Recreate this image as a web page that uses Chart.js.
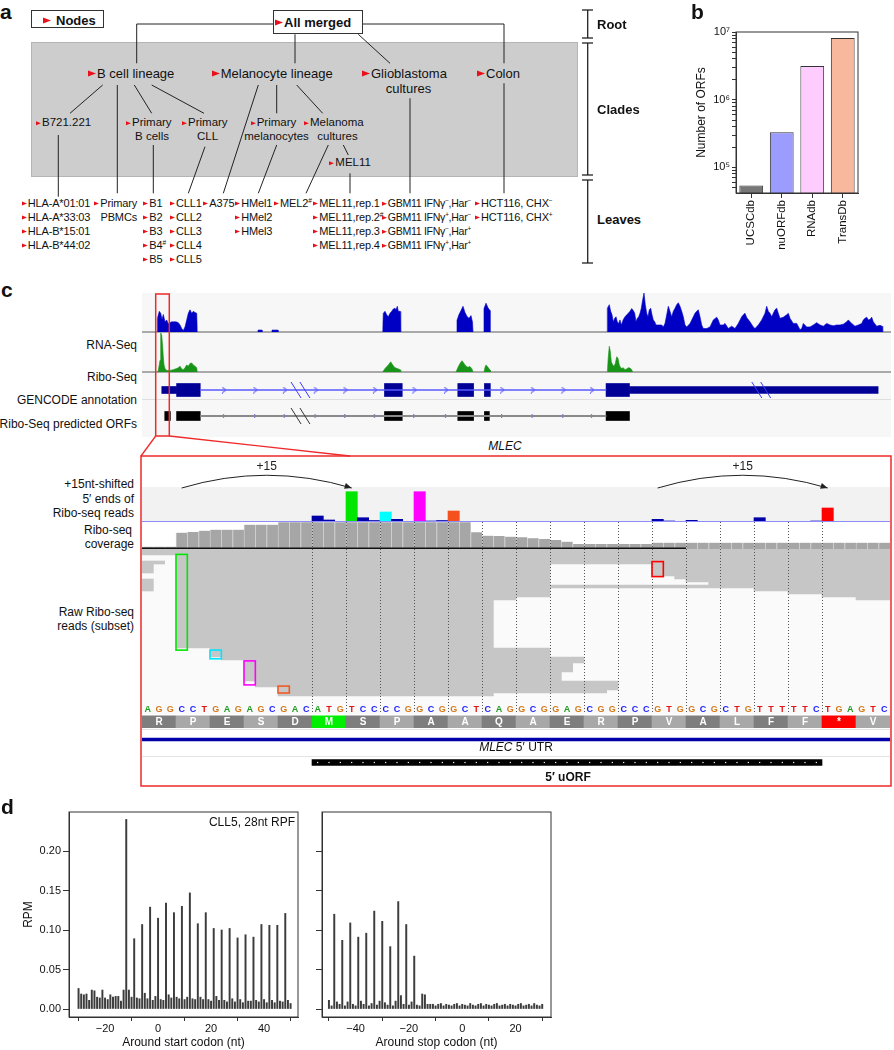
<!DOCTYPE html>
<html>
<head>
<meta charset="utf-8">
<title>nuORFdb overview</title>
<script src="https://cdn.jsdelivr.net/npm/chart.js@4.4.1/dist/chart.umd.min.js"></script>
<style>
  body { margin: 0; background: #fff; }
  #fig { position: relative; width: 894px; height: 1050px; overflow: hidden;
         font-family: "Liberation Sans", Arial, Helvetica, sans-serif; color: #111; }
  #fig canvas, #fig .t, #fig .bx { position: absolute; }
  .t { white-space: nowrap; line-height: 1; }
  .ar { display: inline-block; width: 0; height: 0; border-top: 3px solid transparent;
        border-bottom: 3px solid transparent; border-left: 8px solid #e8101a; margin-right: 1px; vertical-align: 1px; }
  .as { display: inline-block; width: 0; height: 0; border-top: 2.5px solid transparent;
        border-bottom: 2.5px solid transparent; border-left: 5px solid #e8101a; margin-right: 1px; vertical-align: 1px; }
  sup { font-size: 60%; vertical-align: 0.55em; line-height: 0; }
  .lf { font-size: 11px; letter-spacing: -0.15px; }
</style>
</head>
<body>
<div id="fig"></div>
<script>
// ---- panel b: ORF database sizes
const dbNames = ['UCSCdb', 'nuORFdb', 'RNAdb', 'TransDb'];
const dbCounts = [54000, 330000, 3150000, 8150000];
const dbColors = ['#777777', '#9c9cff', '#ffccff', '#f8b89d'];
const logMajor = [1e5, 1e6, 1e7];

// ---- panel d: metagene RPM around start / stop codons
const startRPM = [
  .026, .019, .018, .019, .011, .024, .023, .015, .014, .024,
  .014, .012, .018, .015, .016, .016, .010, .024, .240, .024,
  .015, .089, .014, .013, .107, .020, .013, .129, .011, .016,
  .115, .012, .011, .134, .018, .014, .122, .015, .013, .130,
  .012, .015, .147, .013, .012, .108, .015, .012, .122, .012,
  .010, .102, .016, .011, .100, .011, .009, .102, .013, .009,
  .090, .012, .008, .094, .010, .010, .091, .011, .009, .107,
  .012, .008, .106, .011, .008, .106, .010, .009, .121, .011,
  .007
];
const stopRPM = [
  .011, .004, .120, .009, .006, .087, .004, .009, .109, .006,
  .004, .091, .010, .006, .096, .004, .007, .124, .005, .010,
  .111, .008, .005, .079, .004, .010, .136, .017, .006, .107,
  .005, .009, .067, .005, .004, .019, .018, .006, .006, .006,
  .004, .006, .007, .004, .006, .005, .004, .006, .007, .004,
  .006, .005, .004, .007, .005, .004, .006, .007, .004, .006,
  .005, .004, .006, .007, .004, .005, .006, .004, .006, .005,
  .004, .006, .007, .004, .005, .006, .004, .007, .005, .004,
  .006
];
const rpmTicks = [0, 0.05, 0.10, 0.15, 0.20];
const startTicks = [-20, 0, 20, 40];
const stopTicks = [-40, -20, 0, 20];

// ---- panel c, upper browser view (position along the locus, coverage in % of track)
const rnaCov = [
  [[16.3,0],[16.3,34],[18.3,53],[19.7,48],[21,32],[22.3,45],[24,26],[25.7,31],[27.3,21],[29,24],[30.7,26],[32.3,26],[35,26],[37.3,24],[39,18],[40.7,9],[42.3,4],[44,13],[45.7,31],[47.3,48],[49,57],[50.7,48],[52.3,53],[54,50],[55.7,48],[56.3,0]],
  [[117,0],[117,5],[121,5],[121,0]],
  [[131,0],[131,5],[137,5],[137,0]],
  [[241.7,0],[242.3,48],[244,53],[245.7,44],[247.3,39],[249,48],[250.7,53],[252.3,59],[254,61],[255,57],[256.3,66],[257.3,53],[259,53],[259.7,0]],
  [[316,0],[316,30],[318,45],[320,55],[322,66],[324,50],[326,40],[328,35],[330,42],[331.5,25],[332,0]],
  [[343,0],[343,60],[345,74],[347,62],[349,55],[349,0]],
  [[466.3,0],[466.3,61],[468.3,70],[469.7,53],[471,44],[472.3,26],[473.7,35],[475,39],[476.3,26],[477.7,22],[479,31],[480.3,18],[482.3,32],[484,39],[485.7,44],[487.3,48],[489,53],[490.7,60],[492.3,55],[493.7,48],[495,26],[496.3,35],[497.7,39],[499,48],[500.3,61],[501.7,83],[503,100],[504.3,70],[505.7,48],[507,39],[508.3,57],[509.7,61],[511,44],[512.3,31],[513.7,26],[515,18],[517.7,18],[520.7,18],[522.3,13],[524,22],[525.7,44],[527.3,66],[529,53],[530.7,39],[532.3,53],[534,61],[535.7,70],[537.3,75],[539,66],[540.7,53],[542.3,39],[544,18],[545.7,13],[549,22],[552.3,39],[554,48],[555.7,53],[557.3,57],[559,39],[560.7,18],[562.3,9],[565.7,9],[569,13],[572.3,31],[575.7,38],[577.3,31],[579,18],[582.3,18],[584,22],[587.3,9],[590.7,15],[594,9],[597.3,22],[600.7,39],[602.3,44],[604,48],[605.7,37],[609,26],[612.3,13],[614,9],[617.3,18],[620.7,31],[624,48],[625.7,66],[627.3,53],[629,48],[630.7,39],[632.3,48],[634,57],[635.7,61],[637.3,48],[639,35],[642.3,38],[645.7,44],[647.3,48],[649,35],[652.3,22],[655.7,22],[659,6],[660.7,9],[662.3,22],[665.7,13],[669,13],[672.3,18],[675.7,24],[679,18],[682.3,15],[685.7,22],[689,18],[692.3,16],[695.7,18],[699,18],[702.3,20],[705.7,26],[707.3,31],[710.7,22],[714,15],[717.3,18],[720.7,22],[722.3,31],[724,35],[725.7,38],[727.3,31],[729,32],[730.7,38],[732.3,26],[735.7,15],[739,17],[741,15],[741.7,0]]
];
const riboCov = [
  [[16.3,0],[17.3,4],[19,30],[19.7,100],[20.7,95],[21.7,64],[22.3,39],[23,18],[24,9],[25.7,4],[29,4],[32.3,6],[35.7,9],[37.3,11],[39,15],[40.7,8],[42.3,6],[44,11],[45.7,18],[47.3,15],[49,22],[50.7,23],[52.3,18],[54,15],[55.7,11],[56.3,0]],
  [[241.7,0],[244,9],[247.3,18],[249.7,26],[251.7,18],[254,11],[256.3,9],[259,6],[259.7,0]],
  [[315,0],[317,12],[319,22],[321,29],[323,22],[325,15],[327,12],[329,14],[331,8],[332,0]],
  [[343,0],[344,12],[345,18],[347,12],[349,5],[349.5,0]],
  [[466.3,0],[467.3,39],[468.3,66],[469.3,53],[470.3,26],[471.7,18],[473,15],[474.3,22],[475.7,39],[477,35],[478.3,18],[479.7,11],[481,9],[482.3,11],[484,6],[485.7,8],[487.3,11],[489,10],[490.7,6],[491.7,0]]
];
const gencodeUTR = [[16, 31], [490, 742]];
const gencodeCDS = [[31, 55], [241.7, 259.7], [316, 332], [343, 349], [466.3, 490]];
const orfBlocks = [[19, 24.7], [31, 55], [241.7, 259.7], [316, 332], [343, 348], [466.3, 490]];
const intronSpan = [[55, 466.3]];
const intronArrows = [79, 110.7, 140.7, 172, 202, 232, 272, 304, 361, 392, 423, 452];
const gencodeHash = [147, 614];
const orfHash = [147];

// ---- panel c, zoom on the uORF (nt index 0..65)
const seqNt = 'AGGCCTGAGAGCGACATGTCCCCGGCGGCTCAGGCGGAGCGGCCCGTGGCGCTGTTTTTCTGAGTC';
const aaSeq = ['R','P','E','S','D','M','S','P','A','A','Q','A','E','R','P','V','A','L','F','F','*','V'];
const aaShade = ['d','l','d','l','d','M','d','l','d','l','d','l','d','l','d','l','d','l','d','l','*','l'];
const fivePrime = [
  0, 0, 0, 0, 0, 0, 0, 0, 0, 0.5,
  0, 0, 0, 0, 0, 6, 2, 0, 30.3, 4.3,
  1.5, 10, 2.7, 0, 30.3, 1, 1.5, 11, 0.5, 0.5,
  0, 0, 0, 0, 0, 0, 0, 0, 0, 0,
  0, 0.5, 0, 0, 0, 2.7, 1, 0, 1.7, 0,
  0.5, 0.5, 0, 0, 4.3, 0, 0.5, 0, 0.5, 1,
  14, 0.5, 0.5, 0, 0, 0
];
const fivePrimeHi = { 18: '#00e600', 21: '#00ffff', 24: '#ff00ff', 27: '#f4511e', 60: '#ff0000' };
const coverage = [
  2.3, 2.3, 2.3, 16.3, 17, 18.3, 19.3, 19.3, 19.3, 24.3,
  24.3, 24.3, 26.7, 26.7, 26.7, 26.7, 26.7, 26.7, 26.7, 26.7,
  26.7, 26.7, 26.7, 26.7, 26.7, 26.7, 26.7, 26.7, 26.7, 16.7,
  13.3, 13, 12.3, 11.7, 10.7, 10, 9, 7.3, 5, 5,
  5, 5, 5, 5, 5, 6.3, 6.3, 6.3, 6.3, 6.3,
  6.3, 6.3, 6.3, 6.3, 6.3, 6.3, 6.3, 6.3, 6.3, 6.3,
  6.3, 6.3, 6.3, 6.3, 6.3, 6.3
];
// [row, start nt, end nt]
const readRows = [
  [0,0,66],[1,0,66],[2,3,66],[3,3,66],
  [4,0,2],[4,3,66],
  [5,0,1],[5,3,36],[5,45,66],
  [6,0,1],[6,3,36],[6,45,66],
  [7,0,1],[7,3,36],[7,45,66],
  [8,3,36],[8,45,66],
  [9,3,36],[9,47,66],
  [10,0,1],[10,3,36],[10,48,66],
  [11,0,1],[11,3,36],[11,50,66],
  [12,0,1],[12,3,66],
  [13,0,1],[13,3,36],[13,54,66],
  [14,3,36],[14,57,66],
  [15,3,36],[15,60,66],
  [16,3,33],[16,63,66],
  [17,3,31],[18,3,31],[19,3,31],[20,3,31],[21,3,31],[22,3,31],[23,3,31],[24,3,31],
  [25,3,31],[26,3,31],[27,3,31],[28,3,31],[29,3,31],[30,3,31],[31,3,31],[32,3,31],
  [33,6,36],[34,6,36],[35,6,36],[36,7,39],
  [37,9,39],[38,9,38],[39,9,38],[40,9,38],
  [41,9,37],[42,9,37],[43,9,37],
  [44,10,42],[45,10,42],[46,12,42],[47,12,41],[48,12,31]
];
const hlBoxes = [
  { nt: 3, rows: [1.8, 33.7], color: '#00e600' },
  { nt: 6, rows: [33.7, 36.6], color: '#00e5ff' },
  { nt: 9, rows: [37.3, 45.3], color: '#ff00ff' },
  { nt: 12, rows: [45.7, 48], color: '#f05a23' },
  { nt: 45, rows: [4.2, 9.2], color: '#ff0000' }
];
const codonLines = [15, 18, 21, 24, 27, 30, 33, 36, 39, 42, 45, 48, 51, 54, 57, 60];
const shiftArcs = [[3.5, 18.5], [45.5, 60.5]];
const utrSpan = [0, 66];
const uorfSpan = [15, 60];
const covLineEnd = 48;

const ntColor = { A: '#1f9d1f', C: '#1c1cff', G: '#d5791a', T: '#e31414' };
const FONT = '"Liberation Sans", Arial, Helvetica, sans-serif';
Chart.defaults.font.family = FONT;
Chart.defaults.font.size = 11;
Chart.defaults.color = '#111';
Chart.defaults.animation = false;
Chart.defaults.events = [];
Chart.defaults.plugins.legend.display = false;
Chart.defaults.plugins.tooltip.enabled = false;

const fig = document.getElementById('fig');
function L(x, y, html, css, align) {
  const d = document.createElement('div');
  d.className = 't';
  d.innerHTML = html;
  d.style.left = x + 'px';
  d.style.top = y + 'px';
  const tx = align === 'c' ? '-50%' : align === 'r' ? '-100%' : '0';
  d.style.transform = 'translate(' + tx + ',-50%)';
  if (css) d.style.cssText += css;
  fig.appendChild(d);
  return d;
}
function box(x, y, w, h, css) {
  const d = document.createElement('div');
  d.className = 'bx';
  d.style.cssText += `left:${x}px;top:${y}px;width:${w}px;height:${h}px;` + (css || '');
  fig.appendChild(d);
}
function mk(x, y, w, h) {
  const c = document.createElement('canvas');
  c.width = w; c.height = h;
  c.style.left = x + 'px'; c.style.top = y + 'px';
  fig.appendChild(c);
  return c;
}
const range = (a, b) => Array.from({ length: b - a + 1 }, (_, i) => a + i);

const frame = {
  id: 'frame',
  afterDraw(c) {
    const a = c.chartArea, g = c.ctx;
    g.save(); g.strokeStyle = '#333'; g.lineWidth = 1;
    g.strokeRect(a.left, a.top, a.right - a.left, a.bottom - a.top);
    g.restore();
  }
};
const codonGuides = {
  id: 'codonGuides',
  afterDatasetsDraw(c) {
    const a = c.chartArea, g = c.ctx, xs = c.scales.x;
    g.save(); g.strokeStyle = '#555'; g.lineWidth = 1; g.setLineDash([1, 2]);
    codonLines.forEach(n => {
      const px = Math.round(xs.getPixelForValue(n)) + 0.5;
      g.beginPath(); g.moveTo(px, a.top); g.lineTo(px, a.bottom); g.stroke();
    });
    g.restore();
  }
};

// ---------- backgrounds ----------
box(30.7, 41.7, 547, 135, 'background:#cdcdcd;border:1px solid #b5b5b5;box-sizing:border-box');
box(141.7, 292.7, 749.3, 144, 'background:#f7f7f7');
box(141.7, 331, 749.3, 1.5, 'background:#a9a9a9');
box(141.7, 371, 749.3, 1.5, 'background:#a9a9a9');
box(141.7, 398.5, 749.3, 1, 'background:#dedede');
box(142, 487, 748, 35, 'background:#f2f2f2');
box(142, 549, 748, 165, 'background:#fafafa');
box(142, 729, 748, 1, 'background:#e4e4e4');
box(142, 756, 748, 1, 'background:#e4e4e4');
box(30.7, 10, 73.3, 18.3, 'border:1px solid #333;box-sizing:border-box;background:#fff');
box(273, 10, 90, 24.3, 'border:1.2px solid #333;box-sizing:border-box;background:#fff');

// ---------- panel b ----------
new Chart(mk(680, 20, 214, 235), {
  type: 'bar',
  data: {
    labels: dbNames,
    datasets: [{ data: dbCounts, backgroundColor: dbColors, borderColor: '#333', borderWidth: 1,
                 barPercentage: 0.78, categoryPercentage: 1 }]
  },
  options: {
    responsive: false,
    layout: { padding: { left: 10, top: 12, right: 36, bottom: 0 } },
    scales: {
      x: {
        grid: { drawOnChartArea: false, offset: false, tickLength: 5, color: '#333' },
        border: { color: '#333' },
        ticks: { minRotation: 90, maxRotation: 90, font: { size: 11.5 }, padding: 2 },
        afterFit: s => { s.height = 62; }
      },
      y: {
        type: 'logarithmic', min: 41900, max: 1e7,
        afterBuildTicks: s => {
          const t = [];
          logMajor.forEach(m => { for (let k = 1; k < 10; k++) { const v = k * m / 10; if (v >= s.min && v <= s.max) t.push({ value: v }); } });
          t.push({ value: 1e7 });
          s.ticks = t;
        },
        ticks: {
          font: { size: 11 }, padding: 2, autoSkip: false,
          callback: v => {
            const e = Math.round(Math.log10(v));
            return Math.abs(Math.log10(v) - e) < 1e-9 ? '10' + ({ 5: '\u2075', 6: '\u2076', 7: '\u2077' })[e] : '';
          }
        },
        grid: { drawOnChartArea: false, tickLength: 4, color: '#333' },
        border: { color: '#333' },
        title: { display: true, text: 'Number of ORFs', font: { size: 12 }, padding: { top: 4, bottom: 0 } },
        afterFit: s => { s.width = 46; }
      }
    }
  },
  plugins: [frame]
});

// ---------- panel d ----------
function rpmChart(left, width, padL, yW, padR, pos, vals, xr, xt, xTitle, withLabels) {
  new Chart(mk(left, 795, width, 255), {
    type: 'bar',
    data: { datasets: [{ data: pos.map((p, i) => ({ x: p, y: vals[i] })), backgroundColor: '#3c3c3c', barThickness: 1.3 }] },
    options: {
      responsive: false,
      layout: { padding: { left: padL, top: 17, right: padR, bottom: 0 } },
      scales: {
        x: {
          type: 'linear', min: xr[0], max: xr[1], offset: false,
          afterBuildTicks: s => { s.ticks = xt.map(v => ({ value: v })); },
          ticks: { font: { size: 11 }, padding: 1, callback: v => v < 0 ? '\u2212' + Math.abs(v) : String(v) },
          grid: { drawOnChartArea: false, tickLength: 4, color: '#333' },
          border: { color: '#333' },
          title: { display: true, text: xTitle, font: { size: 12 }, padding: { top: 0, bottom: 0 } },
          afterFit: s => { s.height = 33; }
        },
        y: {
          min: -0.0101, max: 0.2494,
          afterBuildTicks: s => { s.ticks = rpmTicks.map(v => ({ value: v })); },
          ticks: { font: { size: 11 }, padding: 2, callback: v => withLabels ? v.toFixed(2) : '' },
          grid: { drawOnChartArea: false, tickLength: 6, color: '#333' },
          border: { color: '#333' },
          title: { display: withLabels, text: 'RPM', font: { size: 12 }, padding: { top: 4, bottom: 0 } },
          afterFit: s => { s.width = yW; }
        }
      }
    },
    plugins: [frame]
  });
}
rpmChart(0, 310, 17, 52, 12, range(-30, 50), startRPM, [-33.6, 52.8], startTicks, 'Around start codon (nt)', true);
rpmChart(310, 250, 0, 12, 9, range(-50, 30), stopRPM, [-52.6, 33.3], stopTicks, 'Around stop codon (nt)', false);

// ---------- panel c, upper tracks ----------
const locusX = { type: 'linear', min: 0, max: 750, offset: false, display: false };
function covChart(top, segs, color) {
  new Chart(mk(141, top, 750, 39), {
    type: 'line',
    data: {
      datasets: segs.map(s => ({
        data: s.map(p => ({ x: p[0], y: p[1] })), borderColor: color, backgroundColor: color,
        borderWidth: 0.6, fill: 'origin', pointRadius: 0, tension: 0
      }))
    },
    options: {
      responsive: false, layout: { padding: 0 },
      scales: { x: locusX, y: { min: 0, max: 100, display: false } }
    }
  });
}
covChart(293, rnaCov, '#0000c4');
covChart(333, riboCov, '#189418');

const chev = document.createElement('canvas');
chev.width = 6; chev.height = 7;
(() => { const g = chev.getContext('2d'); g.strokeStyle = '#3b3bff'; g.lineWidth = 1;
  g.beginPath(); g.moveTo(1, 0.5); g.lineTo(5, 3.5); g.lineTo(1, 6.5); g.stroke(); })();

const hashMarks = {
  id: 'hashMarks',
  afterDatasetsDraw(c) {
    const xs = c.scales.x, ys = c.scales.y, g = c.ctx;
    g.save(); g.lineWidth = 1;
    [[gencodeHash, 0, '#3b3bff'], [orfHash, 1, '#333']].forEach(([list, row, col]) => {
      const yc = ys.getPixelForValue(row);
      g.strokeStyle = col;
      list.forEach(p => {
        [0, 9].forEach(off => {
          const x0 = xs.getPixelForValue(p + off);
          g.beginPath(); g.moveTo(x0, yc - 8); g.lineTo(x0 + 10, yc + 8); g.stroke();
        });
      });
    });
    g.restore();
  }
};
const rowBars = (list, row) => list.map(r => ({ x: r, y: row }));
new Chart(mk(141, 372, 750, 62), {
  type: 'bar',
  data: {
    labels: ['GENCODE', 'ORF'],
    datasets: [
      { indexAxis: 'y', grouped: false, data: rowBars(intronSpan, 'GENCODE'), backgroundColor: '#5a5aff', barThickness: 1 },
      { indexAxis: 'y', grouped: false, data: rowBars(intronSpan, 'ORF'), backgroundColor: '#8a8a8a', barThickness: 1.5 },
      { indexAxis: 'y', grouped: false, data: rowBars(gencodeUTR, 'GENCODE'), backgroundColor: '#000096', barThickness: 7 },
      { indexAxis: 'y', grouped: false, data: rowBars(gencodeCDS, 'GENCODE'), backgroundColor: '#000096', barThickness: 13 },
      { indexAxis: 'y', grouped: false, data: rowBars(orfBlocks, 'ORF'), backgroundColor: '#000', barThickness: 9 },
      { type: 'scatter', data: intronArrows.map(p => ({ x: p, y: 'GENCODE' })), pointStyle: chev, pointRadius: 3 },
      { type: 'scatter', data: intronArrows.map(p => ({ x: p, y: 'ORF' })), pointStyle: 'triangle', rotation: 90,
        pointRadius: 2.2, backgroundColor: '#3b3bff', borderWidth: 0 }
    ]
  },
  options: {
    responsive: false, layout: { padding: 0 },
    scales: { x: locusX, y: { type: 'category', display: false } }
  },
  plugins: [hashMarks]
});

// ---------- panel c, zoomed uORF ----------
const arcPlugin = {
  id: 'arcs',
  afterDraw(c) {
    const xs = c.scales.x, a = c.chartArea, g = c.ctx;
    g.save(); g.strokeStyle = '#222'; g.fillStyle = '#222'; g.lineWidth = 1;
    shiftArcs.forEach(([f, t]) => {
      const x0 = xs.getPixelForValue(f), x1 = xs.getPixelForValue(t), mx = (x0 + x1) / 2;
      const y0 = a.top + 1, cy = a.top - 24.5;
      g.beginPath(); g.moveTo(x0, y0); g.quadraticCurveTo(mx, cy, x1, y0); g.stroke();
      const ang = Math.atan2(y0 - cy, x1 - mx);
      g.beginPath();
      g.moveTo(x1, y0);
      g.lineTo(x1 - 7 * Math.cos(ang) + 3 * Math.sin(ang), y0 - 7 * Math.sin(ang) - 3 * Math.cos(ang));
      g.lineTo(x1 - 7 * Math.cos(ang) - 3 * Math.sin(ang), y0 - 7 * Math.sin(ang) + 3 * Math.cos(ang));
      g.closePath(); g.fill();
      g.font = '12px ' + FONT; g.textAlign = 'center'; g.textBaseline = 'middle';
      g.fillText('+' + (t - f), mx, a.top - 20);
    });
    g.strokeStyle = '#8c8cff';
    g.beginPath(); g.moveTo(a.left, a.bottom - 0.5); g.lineTo(a.right, a.bottom - 0.5); g.stroke();
    g.restore();
  }
};
const ntX = { type: 'linear', min: 0, max: 66, offset: false, display: false };
new Chart(mk(142, 458, 748, 64), {
  type: 'bar',
  data: {
    datasets: [{
      data: fivePrime.map((v, i) => ({ x: i + 0.5, y: v })),
      backgroundColor: fivePrime.map((v, i) => fivePrimeHi[i] || '#0000a8'),
      categoryPercentage: 1, barPercentage: 1
    }]
  },
  options: {
    responsive: false, layout: { padding: { top: 29 } },
    scales: { x: ntX, y: { min: 0, max: 35, display: false } }
  },
  plugins: [arcPlugin]
});

const covBase = {
  id: 'covBase',
  afterDraw(c) {
    const xs = c.scales.x, a = c.chartArea, g = c.ctx;
    g.save(); g.strokeStyle = '#111'; g.lineWidth = 1.5;
    g.beginPath(); g.moveTo(xs.getPixelForValue(0), a.bottom - 0.75); g.lineTo(xs.getPixelForValue(covLineEnd), a.bottom - 0.75); g.stroke();
    g.restore();
  }
};
new Chart(mk(142, 522, 748, 27), {
  type: 'bar',
  data: {
    datasets: [{
      data: coverage.map((v, i) => ({ x: i + 0.5, y: v })),
      backgroundColor: '#a6a6a6', borderColor: '#cdcdcd', borderWidth: { left: 1, right: 0, top: 0, bottom: 0 },
      borderSkipped: false, categoryPercentage: 1, barPercentage: 1
    }]
  },
  options: {
    responsive: false, layout: { padding: 0 },
    scales: { x: ntX, y: { min: 0, max: 27, display: false } }
  },
  plugins: [codonGuides, covBase]
});

const hlPlugin = {
  id: 'hl',
  afterDatasetsDraw(c) {
    const xs = c.scales.x, ys = c.scales.y, g = c.ctx;
    g.save(); g.lineWidth = 1.6;
    hlBoxes.forEach(b => {
      const x0 = xs.getPixelForValue(b.nt), x1 = xs.getPixelForValue(b.nt + 1);
      const y0 = ys.getPixelForValue(b.rows[0]), y1 = ys.getPixelForValue(b.rows[1]);
      g.strokeStyle = b.color; g.strokeRect(x0, y0, x1 - x0, y1 - y0);
    });
    g.restore();
  }
};
new Chart(mk(142, 549, 748, 165), {
  type: 'bar',
  data: {
    datasets: [{
      indexAxis: 'y', grouped: false,
      data: readRows.map(r => ({ x: [r[1], r[2]], y: r[0] + 0.5 })),
      backgroundColor: '#c6c6c6', barThickness: 3
    }]
  },
  options: {
    responsive: false, layout: { padding: 0 },
    scales: { x: ntX, y: { type: 'linear', min: 0, max: 55, reverse: true, offset: false, display: false } }
  },
  plugins: [codonGuides, hlPlugin]
});

const seqPlugin = {
  id: 'seq',
  afterDatasetsDraw(c) {
    const xs = c.scales.x, ys = c.scales.y, g = c.ctx;
    g.save(); g.textAlign = 'center'; g.textBaseline = 'middle';
    g.font = 'bold 9px ' + FONT;
    const yn = ys.getPixelForValue(0);
    seqNt.split('').forEach((b, i) => { g.fillStyle = ntColor[b]; g.fillText(b, xs.getPixelForValue(i + 0.5), yn); });
    g.font = 'bold 10px ' + FONT; g.fillStyle = '#fff';
    const ya = ys.getPixelForValue(1);
    aaSeq.forEach((a, k) => g.fillText(a, xs.getPixelForValue(3 * k + 1.5), ya + 0.5));
    g.restore();
  }
};
const shadeCol = { d: '#7e7e7e', l: '#a8a8a8', M: '#00ee00', '*': '#ff0000' };
new Chart(mk(142, 703, 748, 25), {
  type: 'bar',
  data: {
    labels: ['nt', 'aa'],
    datasets: [{
      indexAxis: 'y', grouped: false,
      data: aaSeq.map((a, k) => ({ x: [3 * k, 3 * k + 3], y: 'aa' })),
      backgroundColor: aaShade.map(s => shadeCol[s]), barThickness: 12
    }]
  },
  options: {
    responsive: false, layout: { padding: 0 },
    scales: { x: ntX, y: { type: 'category', display: false } }
  },
  plugins: [seqPlugin]
});

const uorfDots = {
  id: 'uorfDots',
  afterDatasetsDraw(c) {
    const xs = c.scales.x, ys = c.scales.y, g = c.ctx, yc = ys.getPixelForValue(1);
    g.save(); g.fillStyle = '#fff';
    for (let n = uorfSpan[0]; n < uorfSpan[1]; n++) g.fillRect(xs.getPixelForValue(n + 0.5) - 0.6, yc - 0.6, 1.2, 1.2);
    g.restore();
  }
};
new Chart(mk(142, 728, 748, 46), {
  type: 'bar',
  data: {
    labels: ['utr', 'uorf'],
    datasets: [
      { indexAxis: 'y', grouped: false, data: [{ x: utrSpan, y: 'utr' }], backgroundColor: '#0000aa', barThickness: 3 },
      { indexAxis: 'y', grouped: false, data: [{ x: uorfSpan, y: 'uorf' }], backgroundColor: '#000', barThickness: 6 }
    ]
  },
  options: {
    responsive: false, layout: { padding: 0 },
    scales: { x: ntX, y: { type: 'category', display: false } }
  },
  plugins: [uorfDots]
});

// ---------- text ----------
const B = 'font-weight:bold;';
L(0, 11, 'a', B + 'font-size:21px;');
L(691, 11, 'b', B + 'font-size:21px;');
L(1, 289, 'c', B + 'font-size:21px;');
L(1, 806, 'd', B + 'font-size:21px;');

L(43, 19.5, '<i class="ar" style="margin-right:5px"></i>Nodes', B + 'font-size:13px;');
L(275, 22, '<i class="ar"></i>All merged', B + 'font-size:13px;');

const c13 = 'font-size:13px;';
L(88, 72.7, '<i class="ar"></i>B cell lineage', c13);
L(211.7, 72.7, '<i class="ar"></i>Melanocyte lineage', c13);
L(362, 72.7, '<i class="ar"></i>Glioblastoma', c13);
L(408.5, 88.3, 'cultures', c13, 'c');
L(477, 72.7, '<i class="ar"></i>Colon', c13);

const c11 = 'font-size:11.5px;';
L(36, 123.3, '<i class="as"></i>B721.221', c11);
L(126, 123.3, '<i class="as"></i>Primary', c11);
L(152, 136.7, 'B cells', c11, 'c');
L(182, 123.3, '<i class="as"></i>Primary', c11);
L(207.5, 136.7, 'CLL', c11, 'c');
L(250.7, 123.3, '<i class="as"></i>Primary', c11);
L(276.5, 136.7, 'melanocytes', c11, 'c');
L(304, 123.3, '<i class="as"></i>Melanoma', c11);
L(337.5, 136.7, 'cultures', c11, 'c');
L(329.3, 163.3, '<i class="as"></i>MEL11', c11);

const rowsY = [203.3, 217.3, 231.3, 245.3, 259.3];
const ah = '<i class="as"></i>';
const leafCols = [
  [21.7, ['HLA-A*01:01', 'HLA-A*33:03', 'HLA-B*15:01', 'HLA-B*44:02']],
  [143.3, ['B1', 'B2', 'B3', 'B4<sup>#</sup>', 'B5']],
  [170, ['CLL1', 'CLL2', 'CLL3', 'CLL4', 'CLL5']],
  [203.3, ['A375']],
  [235.3, ['HMel1', 'HMel2', 'HMel3']],
  [274, ['MEL2<sup>#</sup>']],
  [313.3, ['MEL11,rep.1', 'MEL11,rep.2<sup>#</sup>', 'MEL11,rep.3', 'MEL11,rep.4']],
  [475, ['HCT116, CHX<sup>\u2212</sup>', 'HCT116, CHX<sup>+</sup>']]
];
leafCols.forEach(([x, items]) => items.forEach((s, i) => L(x, rowsY[i], ah + s).classList.add('lf')));
const gbmLeaves = ['GBM11 IFN\u03b3<sup>\u2212</sup>,Har<sup>\u2212</sup>', 'GBM11 IFN\u03b3<sup>+</sup>,Har<sup>\u2212</sup>',
                   'GBM11 IFN\u03b3<sup>\u2212</sup>,Har<sup>+</sup>', 'GBM11 IFN\u03b3<sup>+</sup>,Har<sup>+</sup>'];
gbmLeaves.forEach((s, i) => L(381.7, rowsY[i], ah + s, 'font-size:10.6px;letter-spacing:-0.3px;'));
L(94.3, rowsY[0], ah + 'Primary').classList.add('lf');
L(100.5, rowsY[1], 'PBMCs').classList.add('lf');

L(597, 24, 'Root', B + 'font-size:13px;');
L(597, 109, 'Clades', B + 'font-size:13px;');
L(597, 219, 'Leaves', B + 'font-size:13px;');

const c12 = 'font-size:12px;';
L(137, 345, 'RNA-Seq', c12, 'r');
L(137, 377.3, 'Ribo-Seq', c12, 'r');
L(137, 400, 'GENCODE annotation', c12, 'r');
L(137, 424, 'Ribo-Seq predicted ORFs', c12, 'r');
L(505, 445.7, 'MLEC', c12 + 'font-style:italic;', 'c');

L(134, 484, '+15nt-shifted', c12, 'r');
L(134, 498.7, '5\u2032 ends of', c12, 'r');
L(134, 512.7, 'Ribo-seq reads', c12, 'r');
L(132, 530, 'Ribo-seq', c12, 'r');
L(134, 544, 'coverage', c12, 'r');
L(134, 612, 'Raw Ribo-seq', c12, 'r');
L(134, 626, 'reads (subset)', c12, 'r');
L(516, 747, '<i>MLEC</i> 5\u2032 UTR', c12, 'c');
L(568, 777, '5\u2032 uORF', B + c12, 'c');
L(295, 822, 'CLL5, 28nt RPF', c12, 'r');

// ---------- lines: tree, scale bar, zoom frame ----------
const NS = 'http://www.w3.org/2000/svg';
const svg = document.createElementNS(NS, 'svg');
svg.setAttribute('width', 894); svg.setAttribute('height', 1050);
svg.style.cssText = 'position:absolute;left:0;top:0;pointer-events:none';
function seg(p, stroke, w) {
  const l = document.createElementNS(NS, 'line');
  l.setAttribute('x1', p[0]); l.setAttribute('y1', p[1]); l.setAttribute('x2', p[2]); l.setAttribute('y2', p[3]);
  l.setAttribute('stroke', stroke); l.setAttribute('stroke-width', w);
  svg.appendChild(l);
}
const treeEdges = [
  [273,24,136.7,24],[136.7,24,136.7,63.3],[363,24,504,24],[504,24,504,63.3],
  [295,34.3,295,63.3],[358.3,34.3,390,63.3],
  [102.7,85,70,113.3],[117.3,85,117.3,193.3],[134.3,85,151.7,113.3],[151.7,85,204,113.3],
  [258.3,85,223.3,193.3],[276.7,85,276.7,113.3],[296.7,85,322.7,113.3],
  [410,98.3,410,193.3],[504,83.3,504,193.3],
  [58.3,135,58.3,196.7],[153.3,145,153.3,193.3],[205,146.7,188.3,193.3],
  [276.7,145,258.3,193.3],[328.3,145,306,193.3],[343.3,145,348.3,155],[350,173.3,350,193.3]
];
treeEdges.forEach(e => seg(e, '#222', 1));
[[587.7,10,587.7,38],[587.7,43,587.7,175],[587.7,180,587.7,263],
 [582,10,593,10],[582,38,593,38],[582,43,593,43],[582,175,593,175],[582,180,593,180],[582,263,593,263]
].forEach(e => seg(e, '#222', 1.3));
function rect(x, y, w, h, stroke, sw) {
  const r = document.createElementNS(NS, 'rect');
  r.setAttribute('x', x); r.setAttribute('y', y); r.setAttribute('width', w); r.setAttribute('height', h);
  r.setAttribute('fill', 'none'); r.setAttribute('stroke', stroke); r.setAttribute('stroke-width', sw);
  svg.appendChild(r);
}
rect(155.7, 294, 13.6, 142, '#ee2a2a', 1.5);
rect(141, 456, 750, 330, '#ee2a2a', 1.5);
seg([155.7, 436, 141, 456], '#ee2a2a', 1.3);
seg([169.3, 436, 350, 456], '#ee2a2a', 1.3);
fig.appendChild(svg);
</script>
</body>
</html>
